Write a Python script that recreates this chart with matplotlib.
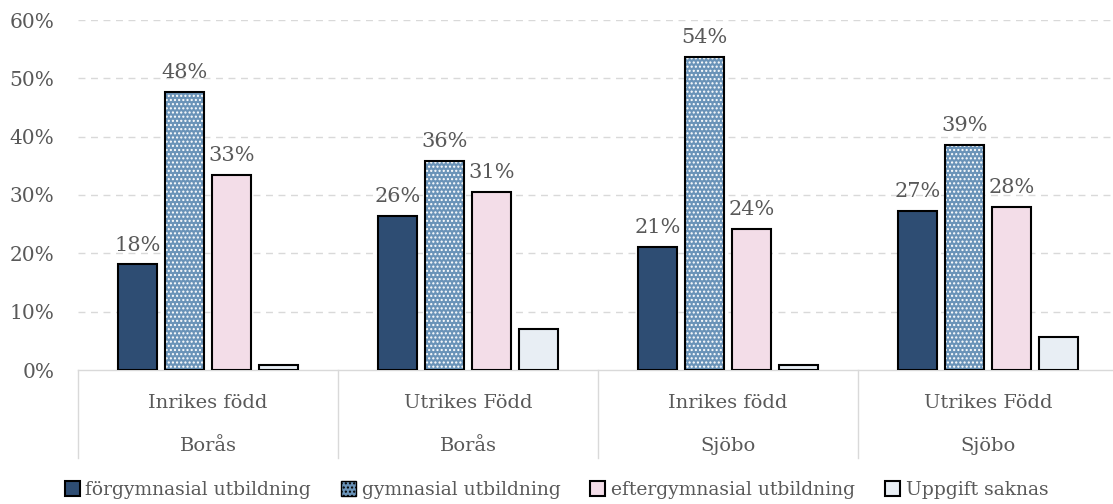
import matplotlib.pyplot as plt
import numpy as np

plt.rcParams['font.family'] = ['DejaVu Serif']

# data
units = ['Inrikes född', 'Utrikes Född', 'Inrikes född', 'Utrikes Född']
kommuner = ['Borås', 'Borås', 'Sjöbo', 'Sjöbo']
series = ['förgymnasial utbildning', 'gymnasial utbildning',
          'eftergymnasial utbildning', 'Uppgift saknas']
forgymnasial = [18.1, 26.4, 21.1, 27.3]
gymnasial = [47.7, 35.9, 53.7, 38.6]
eftergymnasial = [33.4, 30.6, 24.2, 28.0]
uppgift_saknas = [0.9, 7.0, 0.9, 5.7]

values = [forgymnasial, gymnasial, eftergymnasial, uppgift_saknas]
colors = ['#2E4D73', '#6A93B8', '#F3DDE8', '#E8EEF4']
hatches = [None, '....', None, None]
show_labels = [True, True, True, False]
txt = '#595959'
grid_c = '#D9D9D9'

fig = plt.figure(figsize=(11.13, 5.04), dpi=100)
ax = fig.add_axes([78 / 1113, 134 / 504, 1040 / 1113, 350 / 504])

x = np.arange(len(units))
width = 0.148
offsets = [-0.271, -0.0904, 0.0904, 0.271]

for vals, col, h, lab, off, name in zip(values, colors, hatches, show_labels, offsets, series):
    if h:
        ax.bar(x + off, vals, width, color=col, hatch=h, edgecolor='white',
               linewidth=0, zorder=2)
        bars = ax.bar(x + off, vals, width, fill=False, edgecolor='black',
                      linewidth=1.5, zorder=3)
        ax.bar([np.nan], [np.nan], color=col, hatch=h, edgecolor='black',
               linewidth=1, label=name)
    else:
        bars = ax.bar(x + off, vals, width, color=col, edgecolor='black',
                      linewidth=1.5, zorder=3, label=name)
    if lab:
        for b, v in zip(bars, vals):
            ax.annotate(f'{round(v):.0f}%', (b.get_x() + b.get_width() / 2, v),
                        xytext=(0, 7), textcoords='offset points',
                        ha='center', va='bottom', fontsize=15, color=txt)

ax.set_xlim(-0.5, 3.5)
ax.set_ylim(0, 60)
ax.set_yticks(range(0, 61, 10))
ax.set_yticklabels([f'{t}%' for t in range(0, 61, 10)], fontsize=14.5, color=txt)
ax.tick_params(axis='y', length=0, pad=17)
ax.set_xticks([])
for t in range(10, 61, 10):
    ax.axhline(t, color=grid_c, linewidth=1, linestyle=(0, (5, 4)), zorder=0)
for s in ['top', 'right', 'left']:
    ax.spines[s].set_visible(False)
ax.spines['bottom'].set_color(grid_c)
ax.spines['bottom'].set_linewidth(1)

# two-level category axis
trans = ax.get_xaxis_transform()
for i in range(len(units) + 1):
    ax.plot([i - 0.5, i - 0.5], [0, -0.251], transform=trans, color=grid_c,
            linewidth=1, clip_on=False)
for i, (u, k) in enumerate(zip(units, kommuner)):
    ax.text(i, -0.094, u, transform=trans, ha='center', va='center',
            fontsize=14, color=txt)
    ax.text(i, -0.217, k, transform=trans, ha='center', va='center',
            fontsize=14, color=txt)

fig.legend(loc='center', bbox_to_anchor=(0.5, 0.028), ncol=4, frameon=False,
           fontsize=13.5, labelcolor=txt, handlelength=0.8, handleheight=0.8,
           handletextpad=0.3, columnspacing=1.6)

fig.savefig('out.png', dpi=100)
